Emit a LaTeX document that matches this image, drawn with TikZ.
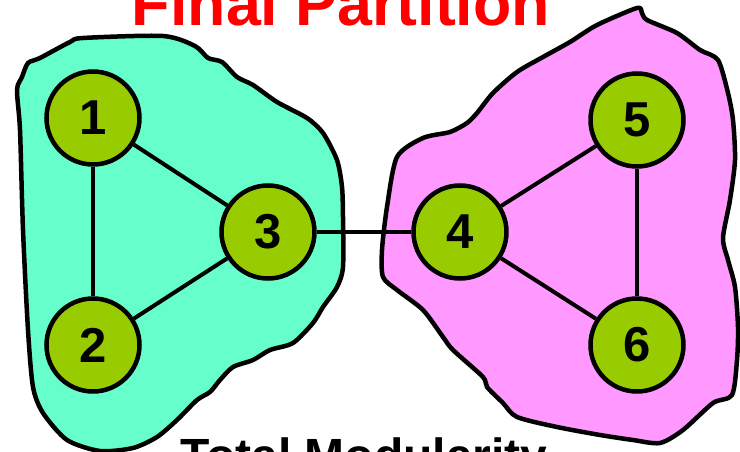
\documentclass[tikz,border=0pt]{standalone}
\usepackage{fontspec}
\setmainfont{Liberation Sans}
\definecolor{blobcyan}{HTML}{66FFCC}
\definecolor{blobpink}{HTML}{FF99FF}
\definecolor{nodegreen}{HTML}{99CC00}
\definecolor{titlered}{HTML}{FF0000}
\tikzset{
  vertex/.style={circle, draw=black, fill=nodegreen, line width=4.5pt, minimum size=93pt, inner sep=0pt,
    font=\fontsize{49}{49}\selectfont\bfseries},
  link/.style={line width=4pt},
  blob/.style={draw=black, line width=4.5pt, line join=round},
  bigtext/.style={anchor=base, inner sep=0pt, font=\bfseries}
}
\begin{document}
\begin{tikzpicture}[x=1pt,y=-1pt]
\useasboundingbox (0,0) rectangle (740,452);
% cyan community
\draw[blob, fill=blobcyan] plot[smooth cycle, tension=0.45] coordinates {
 (28,63) (40,58) (70,42) (83,38) (163,36) (195,46) (208,58) (222,62) (237,77) (253,85)
 (277,102) (307,118) (323,133) (337,160) (342,187) (343,217) (343,267) (337,287)
 (323,307) (313,323) (293,343) (270,350) (253,360) (233,367) (220,380) (210,392)
 (197,400) (177,420) (157,437) (133,448) (100,451) (67,440) (43,413) (33,387)
 (28,330) (23,230) (20,130) (17,90) (22,77)};
% pink community
\draw[blob, fill=blobpink] plot[smooth cycle, tension=0.45] coordinates {
 (397,157) (423,138) (450,132) (467,123) (477,113) (493,93) (517,72) (543,57) (570,42)
 (597,25) (637,8) (642,13) (647,20) (677,33) (700,50) (718,60) (728,93) (733,120)
 (735,160) (730,200) (723,238) (728,260) (735,287) (738,327) (737,360) (732,395)
 (713,403) (683,430) (660,443) (633,440) (600,435) (557,427) (517,417) (503,403)
 (487,387) (483,377) (453,350) (443,337) (423,310) (397,290) (383,277) (382,250)
 (387,207)};
% vertices
\node[vertex] (n1) at (93,118) {1};
\node[vertex] (n2) at (93,345) {2};
\node[vertex] (n3) at (268,232) {3};
\node[vertex] (n4) at (460,232) {4};
\node[vertex] (n5) at (637,120) {5};
\node[vertex] (n6) at (637,345) {6};
% edges
\draw[link] (n1) -- (n2);
\draw[link] (n1) -- (n3);
\draw[link] (n2) -- (n3);
\draw[link] (n3) -- (n4);
\draw[link] (n4) -- (n5);
\draw[link] (n4) -- (n6);
\draw[link] (n5) -- (n6);
% texts
\node[bigtext, text=titlered, font=\fontsize{62.7}{62.7}\selectfont\bfseries] (title) at (341,26) {Final Partition};
\node[bigtext, font=\fontsize{48}{48}\selectfont\bfseries] (total) at (364,472) {Total Modularity};
\end{tikzpicture}
\end{document}
